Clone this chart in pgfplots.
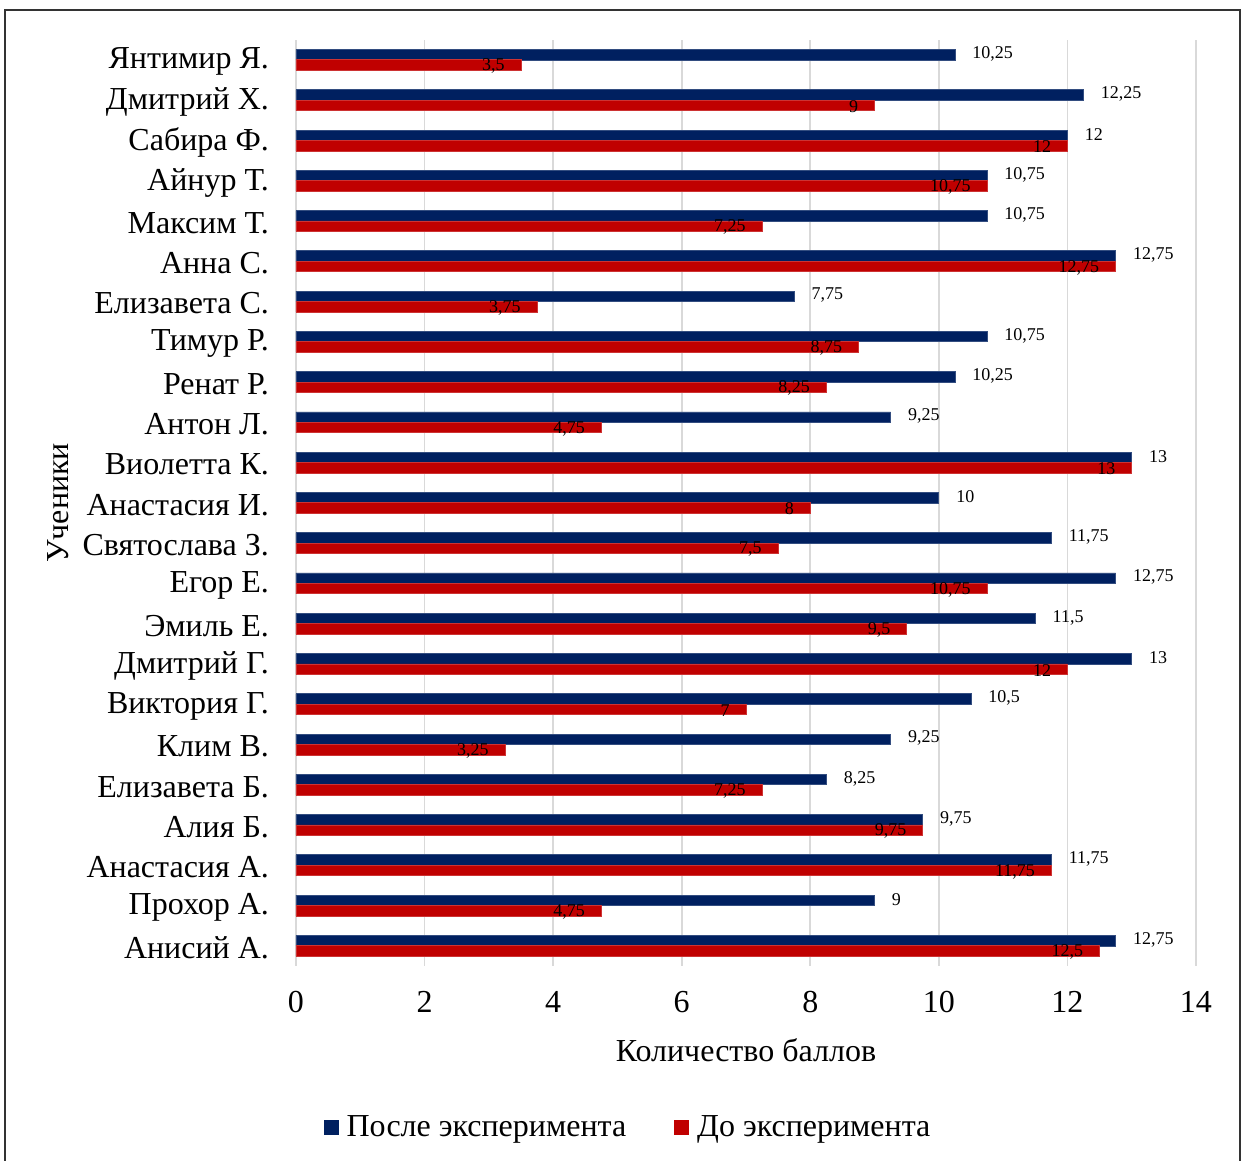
\documentclass[border=0pt]{standalone}
\usepackage{fontspec}
\setmainfont{Liberation Serif}
\usepackage{pgfplots}
\usepackage{pgfplotstable}
\pgfplotsset{compat=1.18}

\definecolor{after}{HTML}{002060}
\definecolor{before}{HTML}{C00000}
\definecolor{gridc}{HTML}{D9D9D9}

% idx: 0 = bottom (Анисий А.), 22 = top (Янтимир Я.)
\pgfplotstableread{
idx after before
0  12.75 12.5
1  9     4.75
2  11.75 11.75
3  9.75  9.75
4  8.25  7.25
5  9.25  3.25
6  10.5  7
7  13    12
8  11.5  9.5
9  12.75 10.75
10 11.75 7.5
11 10    8
12 13    13
13 9.25  4.75
14 10.25 8.25
15 10.75 8.75
16 7.75  3.75
17 12.75 12.75
18 10.75 7.25
19 10.75 10.75
20 12    12
21 12.25 9
22 10.25 3.5
}\scores

\begin{document}
\begin{tikzpicture}
\useasboundingbox (-148pt,-97.5pt) rectangle (474pt,483pt);
\draw[line width=0.8pt, black!80] (-145.5pt,-110pt) -- (-145.5pt,478pt) -- (472pt,478pt) -- (472pt,-110pt);
\begin{axis}[
  at={(0,0)}, anchor=south west,
  scale only axis, width=450pt, height=463.1pt,
  xbar, bar width=5.25pt,
  xmin=0, xmax=14, ymin=-0.5, ymax=22.5,
  xtick={0,2,...,14}, ytick={0,...,22},
  yticklabels={Анисий А., Прохор А., Анастасия А., Алия Б., Елизавета Б., Клим В., Виктория Г., Дмитрий Г., Эмиль Е., Егор Е., Святослава З., Анастасия И., Виолетта К., Антон Л., Ренат Р., Тимур Р., Елизавета С., Анна С., Максим Т., Айнур Т., Сабира Ф., Дмитрий Х., Янтимир Я.},
  axis line style={draw=none},
  major tick length=0pt,
  xmajorgrids, grid style={gridc, line width=0.8pt},
  /pgf/number format/assume math mode=true,
  /pgf/number format/use comma,
  /pgf/number format/1000 sep={},
  xticklabel style={font=\fontsize{16}{16}\selectfont, yshift=-9pt},
  yticklabel style={font=\fontsize{16}{16}\selectfont, xshift=-10pt, yshift=-1pt},
  xlabel={Количество баллов},
  ylabel={Ученики},
  xlabel style={font=\fontsize{16}{16}\selectfont, at={(axis description cs:0.5,-0.0906)}, anchor=center},
  ylabel style={font=\fontsize{16}{16}\selectfont, at={(axis description cs:-0.2644,0.5)}, anchor=center},
  legend style={draw=none, at={(axis description cs:0.37,-0.174)}, anchor=center,
    font=\fontsize{16}{16}\selectfont, legend columns=2,
    /tikz/every odd column/.append style={column sep=2pt},
    /tikz/every even column/.append style={column sep=22pt}},
  legend image code/.code={\fill[#1, draw=none] (0pt,-3.75pt) rectangle (7.5pt,3.75pt);},
  nodes near coords,
  nodes near coords style={font=\fontsize{9}{9}\selectfont, inner sep=0pt, text=black},
]
\addplot[fill=after, draw=after!80!white, bar shift=2.6pt,
  every node near coord/.append style={anchor=west, xshift=8.5pt, yshift=0.5pt}]
  table[x=after, y=idx] {\scores};
\addplot[fill=before, draw=before!80!white, bar shift=-2.6pt,
  every node near coord/.append style={anchor=east, xshift=-8pt, yshift=-0.5pt}]
  table[x=before, y=idx] {\scores};
\legend{После эксперимента, До эксперимента}
\end{axis}
\end{tikzpicture}
\end{document}
